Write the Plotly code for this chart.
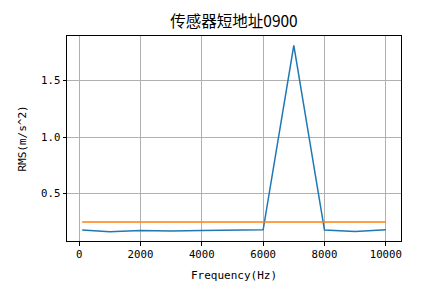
import plotly.graph_objects as go

freq = [100, 1000, 2000, 3000, 4000, 5000, 6000, 7000, 8000, 9000, 10000]
rms = [0.178, 0.164, 0.175, 0.170, 0.175, 0.181, 0.181, 1.81, 0.178, 0.166, 0.180]
limit_x = [100, 10000]
limit_y = [0.25, 0.25]
x_ticks = [0, 2000, 4000, 6000, 8000, 10000]
x_tick_labels = ["0", "2000", "4000", "6000", "8000", "10000"]
y_ticks = [0.5, 1.0, 1.5]
y_tick_labels = ["0.5", "1.0", "1.5"]

font = "DejaVu Sans Mono, Noto Sans CJK SC, sans-serif"

fig = go.Figure()
fig.add_trace(go.Scatter(x=freq, y=rms, mode="lines",
                         line=dict(color="#1f77b4", width=1.5), showlegend=False))
fig.add_trace(go.Scatter(x=limit_x, y=limit_y, mode="lines",
                         line=dict(color="#ff7f0e", width=1.5), showlegend=False))

xmin, xmax = min(freq), max(freq)
ymin, ymax = min(rms), max(rms)
xpad = 0.05 * (xmax - xmin)
ypad = 0.05 * (ymax - ymin)

fig.update_layout(
    width=445, height=301,
    margin=dict(l=67, r=44, t=36, b=60),
    paper_bgcolor="white", plot_bgcolor="white",
    font=dict(family=font, size=10.7, color="black"),
    title=dict(text="传感器短地址0900", xref="paper", x=0.5, xanchor="center",
               yref="container", y=0.927, yanchor="middle",
               font=dict(family="Noto Sans CJK SC, sans-serif", size=15.5, color="black")),
    xaxis=dict(range=[xmin - xpad, xmax + xpad], tickvals=x_ticks, ticktext=x_tick_labels,
               showgrid=True, gridcolor="#b0b0b0", gridwidth=1,
               showline=True, linecolor="black", linewidth=1, mirror=True,
               ticks="outside", ticklen=3.5, tickcolor="black", zeroline=False,
               title=dict(text="Frequency(Hz)", standoff=10, font=dict(size=11))),
    yaxis=dict(range=[ymin - ypad, ymax + ypad], tickvals=y_ticks, ticktext=y_tick_labels,
               showgrid=True, gridcolor="#b0b0b0", gridwidth=1,
               showline=True, linecolor="black", linewidth=1, mirror=True,
               ticks="outside", ticklen=3.5, tickcolor="black", zeroline=False,
               title=dict(text="RMS(m/s^2)", standoff=12, font=dict(size=11))),
)

fig.write_html("out.html")
